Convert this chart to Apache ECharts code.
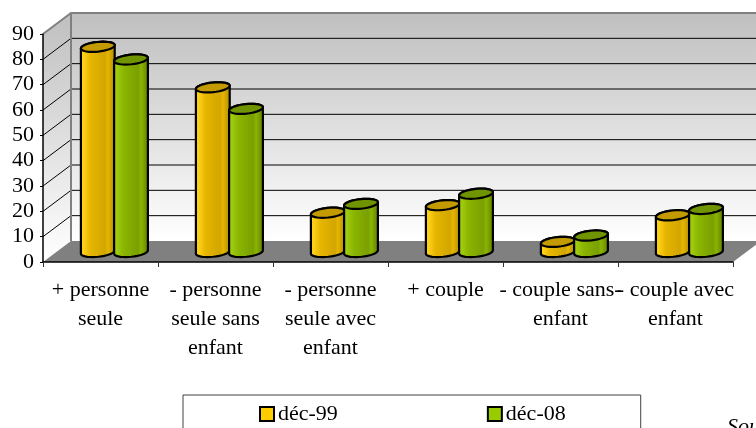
<!DOCTYPE html>
<html>
<head>
<meta charset="utf-8">
<script src="https://cdn.jsdelivr.net/npm/echarts@6/dist/echarts.min.js"></script>
<style>
html, body { margin: 0; padding: 0; background: #fff; overflow: hidden; }
#chart { width: 756px; height: 428px; }
</style>
</head>
<body>
<div id="chart"></div>
<script>
var categories = ['+ personne\nseule', '- personne\nseule sans\nenfant', '- personne\nseule avec\nenfant', '+ couple', '- couple sans-\nenfant', '- couple avec\nenfant'];
var seriesNames = ['déc-99', 'déc-08'];
var dec99 = [81, 65, 15.5, 18.5, 4, 14.5];
var dec08 = [76, 56.5, 19, 23, 6.5, 17];
var gridValues = [0, 10, 20, 30, 40, 50, 60, 70, 80, 90];

var font = '"Liberation Serif", "Times New Roman", serif';
// decalage de la perspective
var depthX = 28, depthY = 21;
var rx = 17, ry = 4.8, tilt = 6 * Math.PI / 180;

function ellipsePoint(cx, cy, deg) {
    var t = deg * Math.PI / 180;
    var ex = rx * Math.cos(t), ey = ry * Math.sin(t);
    return [cx + ex * Math.cos(tilt) + ey * Math.sin(tilt), cy - ex * Math.sin(tilt) + ey * Math.cos(tilt)];
}

function bodyGradient(colors) {
    return new echarts.graphic.LinearGradient(0, 0, 1, 0, [
        { offset: 0, color: colors[0] },
        { offset: 0.1, color: colors[1] },
        { offset: 0.3, color: colors[2] },
        { offset: 0.7, color: colors[3] },
        { offset: 0.78, color: colors[2] },
        { offset: 0.86, color: colors[3] },
        { offset: 1, color: colors[4] }
    ]);
}

function cylinder(offset, colors, topColor) {
    return function (params, api) {
        var base = api.coord([api.value(0), 0]);
        var top = api.coord([api.value(0), api.value(1)]);
        var cx = base[0] + offset;
        var by = base[1] - 10;
        var ty = top[1] - 10;
        var shape = [], ring = [], d;
        for (d = 0; d <= 180; d += 10) {
            shape.push(ellipsePoint(cx, by, d));
        }
        for (d = 180; d <= 360; d += 10) {
            shape.push(ellipsePoint(cx, ty, d));
        }
        for (d = 0; d < 360; d += 10) {
            ring.push(ellipsePoint(cx, ty, d));
        }
        return {
            type: 'group',
            children: [
                { type: 'polygon', shape: { points: shape }, style: { fill: bodyGradient(colors), stroke: '#000', lineWidth: 2.2, lineJoin: 'round' } },
                { type: 'polygon', shape: { points: ring }, style: { fill: topColor, stroke: '#000', lineWidth: 2.2 } }
            ]
        };
    };
}

function renderWalls(params, api) {
    var x0 = params.coordSys.x;
    var x1 = x0 + params.coordSys.width;
    var y0 = api.coord([0, 0])[1];
    var yTop = api.coord([0, 90])[1];
    var wallFill = new echarts.graphic.LinearGradient(0, 0, 0, 1, [
        { offset: 0, color: '#bfbfbf' },
        { offset: 1, color: '#ffffff' }
    ]);
    var sideFill = new echarts.graphic.LinearGradient(0, 0, 0, 1, [
        { offset: 0, color: '#bfbfbf' },
        { offset: 1, color: '#ffffff' }
    ]);
    var kids = [
        { type: 'rect', shape: { x: x0 + depthX, y: yTop - depthY, width: x1 - x0, height: y0 - yTop }, style: { fill: wallFill } },
        { type: 'polygon', shape: { points: [[x0, y0], [x0 + depthX, y0 - depthY], [x0 + depthX, yTop - depthY], [x0, yTop]] }, style: { fill: sideFill } }
    ];
    gridValues.forEach(function (v) {
        if (v === 0 || v === 90) return;
        var y = api.coord([0, v])[1];
        kids.push({ type: 'polyline', shape: { points: [[x0, y], [x0 + depthX, y - depthY], [x1 + depthX, y - depthY]] }, style: { fill: null, stroke: '#000', lineWidth: 1 } });
    });
    kids.push({ type: 'polygon', shape: { points: [[x0, y0], [x0 + depthX, y0 - depthY], [x1 + depthX, y0 - depthY], [x1, y0]] }, style: { fill: '#808080' } });
    kids.push({ type: 'polyline', shape: { points: [[x0, yTop], [x0 + depthX, yTop - depthY], [x1 + depthX, yTop - depthY]] }, style: { fill: null, stroke: '#808080', lineWidth: 2 } });
    kids.push({ type: 'line', shape: { x1: x0 + depthX, y1: yTop - depthY, x2: x0 + depthX, y2: y0 - depthY }, style: { stroke: '#808080', lineWidth: 2 } });
    return { type: 'group', children: kids };
}

function toPairs(values) {
    return values.map(function (v, i) { return [i, v]; });
}

var myChart = echarts.init(document.getElementById('chart'), null, { renderer: 'canvas' });
var option = {
    animation: false,
    backgroundColor: '#fff',
    textStyle: { fontFamily: font },
    grid: { left: 43, right: 23, top: 34, height: 228, containLabel: false },
    xAxis: {
        type: 'category',
        data: categories,
        z: 5,
        axisLine: { lineStyle: { color: '#000', width: 1.5 } },
        axisTick: { show: true, length: 5, alignWithLabel: false, lineStyle: { color: '#333' } },
        axisLabel: { interval: 0, margin: 14, color: '#000', fontFamily: font, fontSize: 22, lineHeight: 29, hideOverlap: false }
    },
    yAxis: {
        type: 'value',
        min: 0,
        max: 90,
        interval: 10,
        z: 5,
        axisLine: { show: true, lineStyle: { color: '#000', width: 1.5 } },
        axisTick: { show: true, length: 3, lineStyle: { color: '#000' } },
        splitLine: { show: false },
        axisLabel: { margin: 9, color: '#000', fontFamily: font, fontSize: 22 }
    },
    legend: {
        left: 183,
        top: 395,
        orient: 'horizontal',
        padding: [8, 75, 60, 76],
        itemGap: 149,
        itemWidth: 14,
        itemHeight: 14,
        icon: 'rect',
        borderColor: '#404040',
        borderWidth: 1,
        textStyle: { fontFamily: font, fontSize: 22, color: '#000', padding: [0, 0, 0, -1] },
        data: [
            { name: seriesNames[0], itemStyle: { color: '#ffcc00', borderColor: '#000', borderWidth: 2 } },
            { name: seriesNames[1], itemStyle: { color: '#99cc00', borderColor: '#000', borderWidth: 2 } }
        ]
    },
    graphic: [
        { type: 'text', left: 727, top: 416, style: { text: 'Source', font: 'italic 22px "Liberation Serif"', fill: '#000' } }
    ],
    series: [
        {
            type: 'custom',
            name: 'murs',
            z: 1,
            silent: true,
            clip: false,
            renderItem: renderWalls,
            data: [[0, 0]]
        },
        {
            type: 'custom',
            name: seriesNames[0],
            z: 3,
            clip: false,
            itemStyle: { color: '#ffcc00' },
            renderItem: cylinder(-2.7, ['#f2c200', '#ffd21a', '#e6b500', '#d2a600', '#a98600'], '#c39b00'),
            data: toPairs(dec99)
        },
        {
            type: 'custom',
            name: seriesNames[1],
            z: 4,
            clip: false,
            itemStyle: { color: '#99cc00' },
            renderItem: cylinder(30.5, ['#8db800', '#a0cc10', '#8ab500', '#7a9f00', '#5f7a00'], '#6f9400'),
            data: toPairs(dec08)
        }
    ]
};
myChart.setOption(option);
</script>
</body>
</html>
